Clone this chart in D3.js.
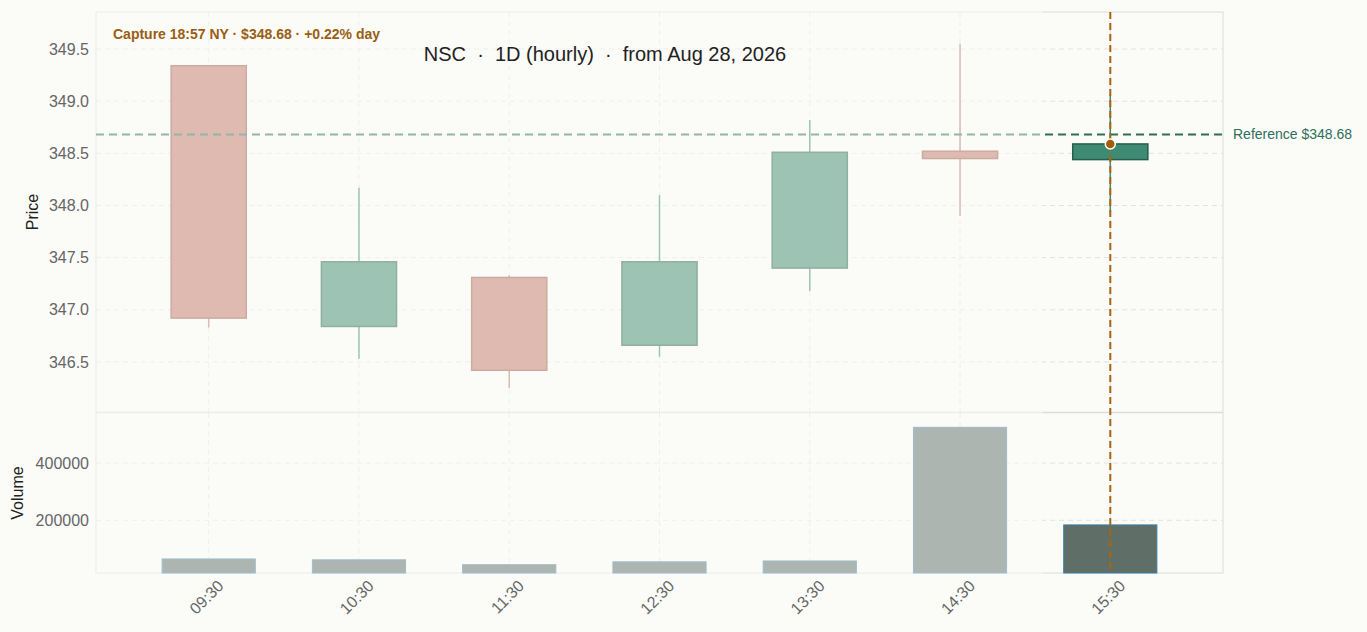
<!DOCTYPE html>
<html>
<head>
<meta charset="utf-8">
<script src="https://cdn.jsdelivr.net/npm/d3@7"></script>
<style>
  body { margin: 0; background: #fbfbf8; }
  svg { display: block; font-family: "Liberation Sans", Arial, sans-serif; }
</style>
</head>
<body>
<div id="chart"></div>
<script>
const WIDTH = 1367;
const HEIGHT = 632;

// data
const times = ["09:30", "10:30", "11:30", "12:30", "13:30", "14:30", "15:30"];
const opens = [349.34, 346.84, 347.31, 346.66, 347.40, 348.52, 348.44];
const closes = [346.92, 347.46, 346.42, 347.46, 348.51, 348.45, 348.59];
const highs = [349.34, 348.17, 347.33, 348.10, 348.82, 349.55, 349.06];
const lows = [346.83, 346.53, 346.25, 346.55, 347.18, 347.90, 347.93];
const volumes = [65000, 62000, 45000, 55000, 58000, 525000, 184000];
const priceTicks = [346.5, 347.0, 347.5, 348.0, 348.5, 349.0, 349.5];
const volumeTicks = [200000, 400000];
const referencePrice = 348.68;
const title = "NSC  ·  1D (hourly)  ·  from Aug 28, 2026";
const captureNote = "Capture 18:57 NY · $348.68 · +0.22% day";

const UP = "#3f8a72";
const DOWN = "#c0786a";
const BG = "#fbfbf8";

const left = 96, right = 1223;
const priceTop = 12, priceBottom = 412;
const volTop = 413, volBottom = 573;

const svg = d3.select("#chart").append("svg")
  .attr("xmlns", "http://www.w3.org/2000/svg")
  .attr("width", WIDTH)
  .attr("height", HEIGHT);

const x = d3.scaleLinear().domain([-0.75, times.length - 0.25]).range([left, right]);
const step = x(1) - x(0);
const y = d3.scaleLinear().domain([346.02, 349.855]).range([priceBottom, priceTop]);
const yv = d3.scaleLinear().domain([16000, 575000]).range([volBottom, volTop]);

const g = svg.append("g");

// panel backgrounds and borders
g.append("rect").attr("x", left).attr("y", priceTop).attr("width", right - left).attr("height", volBottom - priceTop)
  .attr("fill", BG).attr("stroke", "#dcdcdc");
g.append("line").attr("x1", left).attr("x2", right).attr("y1", priceBottom + 0.5).attr("y2", priceBottom + 0.5)
  .attr("stroke", "#dcdcdc").attr("stroke-width", 1.5);

// grid
const grid = g.append("g").attr("stroke", "#e2e2e2").attr("stroke-dasharray", "5,4");
grid.selectAll(".hp").data(priceTicks).enter().append("line")
  .attr("x1", left).attr("x2", right).attr("y1", d => y(d)).attr("y2", d => y(d));
grid.selectAll(".hv").data(volumeTicks).enter().append("line")
  .attr("x1", left).attr("x2", right).attr("y1", d => yv(d)).attr("y2", d => yv(d));
grid.selectAll(".vp").data(times).enter().append("line")
  .attr("x1", (d, i) => x(i)).attr("x2", (d, i) => x(i)).attr("y1", priceTop).attr("y2", priceBottom);
grid.selectAll(".vv").data(times).enter().append("line")
  .attr("x1", (d, i) => x(i)).attr("x2", (d, i) => x(i)).attr("y1", volTop).attr("y2", volBottom);

// candles
const candles = g.selectAll(".candle").data(times).enter().append("g").attr("class", "candle");
const colorOf = i => closes[i] >= opens[i] ? UP : DOWN;
const strokeOf = i => closes[i] >= opens[i] ? "#25604d" : "#9c5a4e";

candles.append("line")
  .attr("x1", (d, i) => x(i)).attr("x2", (d, i) => x(i))
  .attr("y1", (d, i) => y(highs[i])).attr("y2", (d, i) => y(lows[i]))
  .attr("stroke", (d, i) => colorOf(i)).attr("stroke-width", 1.5);

candles.append("rect")
  .attr("x", (d, i) => x(i) - step * 0.25)
  .attr("width", step * 0.5)
  .attr("y", (d, i) => y(Math.max(opens[i], closes[i])))
  .attr("height", (d, i) => Math.max(1, Math.abs(y(opens[i]) - y(closes[i]))))
  .attr("fill", (d, i) => colorOf(i))
  .attr("stroke", (d, i) => strokeOf(i)).attr("stroke-width", 1.5);

// reference line, over the candles
g.append("line")
  .attr("x1", left).attr("x2", right)
  .attr("y1", y(referencePrice)).attr("y2", y(referencePrice))
  .attr("stroke", "#2f6f5a").attr("stroke-width", 2).attr("stroke-dasharray", "8,5");

// volume bars
g.append("g").selectAll("rect").data(volumes).enter().append("rect")
  .attr("x", (d, i) => x(i) - step * 0.31)
  .attr("width", step * 0.62)
  .attr("y", d => yv(d))
  .attr("height", d => volBottom - yv(d))
  .attr("fill", "#5f6f68")
  .attr("stroke", "#3b7ea6").attr("stroke-width", 1);

// dim everything except the latest candle
const dimEnd = x(times.length - 1) - step * 0.45;
svg.append("rect")
  .attr("x", left - 1).attr("y", priceTop - 1)
  .attr("width", dimEnd - left + 1).attr("height", volBottom - priceTop + 2)
  .attr("fill", BG).attr("opacity", 0.5);

// axes labels
const axes = svg.append("g").attr("fill", "#666").style("font-size", "16px");
axes.selectAll(".pt").data(priceTicks).enter().append("text")
  .attr("x", left - 7).attr("y", d => y(d)).attr("dy", "0.35em").attr("text-anchor", "end")
  .text(d => d3.format(".1f")(d));
axes.selectAll(".vt").data(volumeTicks).enter().append("text")
  .attr("x", left - 7).attr("y", d => yv(d)).attr("dy", "0.35em").attr("text-anchor", "end")
  .text(d => d);
axes.selectAll(".xt").data(times).enter().append("text")
  .attr("transform", (d, i) => `translate(${x(i) + 8}, ${volBottom + 6}) rotate(-45)`)
  .attr("text-anchor", "end").attr("dy", "0.7em")
  .style("font-size", "16px")
  .text(d => d);

svg.append("text").attr("transform", `translate(38, ${(priceTop + priceBottom) / 2}) rotate(-90)`)
  .attr("text-anchor", "middle").attr("fill", "#222").style("font-size", "16px").text("Price");
svg.append("text").attr("transform", `translate(23, ${(volTop + volBottom) / 2}) rotate(-90)`)
  .attr("text-anchor", "middle").attr("fill", "#222").style("font-size", "16px").text("Volume");

// reference label
svg.append("text")
  .attr("x", right + 10).attr("y", y(referencePrice)).attr("dy", "0.35em")
  .attr("fill", "#2f6f5a").style("font-size", "14px")
  .text(`Reference $${referencePrice.toFixed(2)}`);

// latest marker
const last = times.length - 1;
svg.append("line")
  .attr("x1", x(last)).attr("x2", x(last)).attr("y1", priceTop).attr("y2", volBottom)
  .attr("stroke", "#a8650f").attr("stroke-width", 2).attr("stroke-dasharray", "7,4");
svg.append("circle")
  .attr("cx", x(last)).attr("cy", y(closes[last])).attr("r", 5)
  .attr("fill", "#a15f0e").attr("stroke", "#fff").attr("stroke-width", 1.5);

// title and note
svg.append("text")
  .attr("x", 605).attr("y", 61).attr("text-anchor", "middle")
  .attr("fill", "#222").style("font-size", "20px")
  .style("white-space", "pre").attr("xml:space", "preserve")
  .text(title);
svg.append("text")
  .attr("x", 113).attr("y", 39)
  .attr("fill", "#9a5e12").style("font-size", "14px").style("font-weight", "bold")
  .text(captureNote);
</script>
</body>
</html>
